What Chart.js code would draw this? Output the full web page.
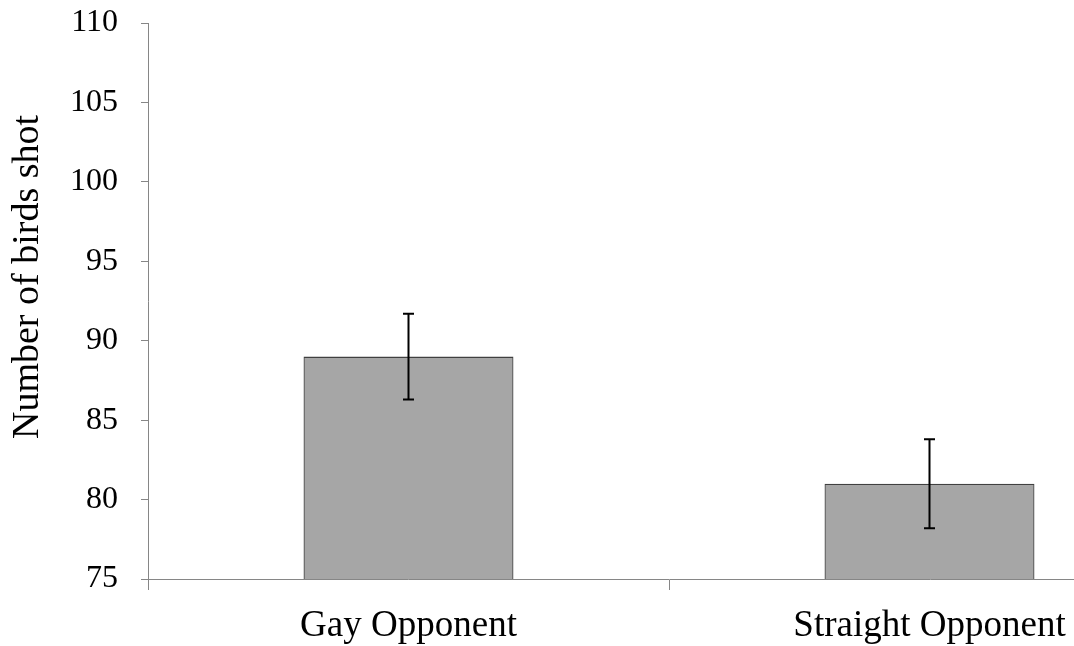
<!DOCTYPE html>
<html>
<head>
<meta charset="utf-8">
<script src="https://cdn.jsdelivr.net/npm/chart.js@4"></script>
<style>
  html, body { margin: 0; padding: 0; background: #fff; overflow: hidden; }
  #wrap { width: 1200px; height: 646px; position: relative; }
</style>
</head>
<body>
<div id="wrap"><canvas id="birdsChart"></canvas></div>
<script>
const categories = ['Gay Opponent', 'Straight Opponent'];
const birdsShot = [89, 81];
const birdsError = [2.7, 2.8];
const yTicks = [75, 80, 85, 90, 95, 100, 105, 110];
const yTitle = 'Number of birds shot';

// error bars + axis title drawn by hand
const errorBars = {
    id: 'errorBars',
    afterDatasetsDraw(chart) {
        const { ctx, scales: { y } } = chart;
        const meta = chart.getDatasetMeta(0);
        ctx.save();
        ctx.strokeStyle = '#000';
        ctx.lineWidth = 2;
        meta.data.forEach((bar, i) => {
            const top = y.getPixelForValue(birdsShot[i] + birdsError[i]);
            const bot = y.getPixelForValue(birdsShot[i] - birdsError[i]);
            ctx.beginPath();
            ctx.moveTo(bar.x, top); ctx.lineTo(bar.x, bot);
            ctx.moveTo(bar.x - 5.5, top); ctx.lineTo(bar.x + 5.5, top);
            ctx.moveTo(bar.x - 5.5, bot); ctx.lineTo(bar.x + 5.5, bot);
            ctx.stroke();
        });
        // y title sits a bit above the middle, like the original
        ctx.translate(28, 277);
        ctx.rotate(-Math.PI / 2);
        ctx.fillStyle = '#000';
        ctx.font = '38px "Liberation Serif"';
        ctx.textAlign = 'center';
        ctx.textBaseline = 'middle';
        ctx.fillText(yTitle, 0, 0);
        ctx.restore();
    }
};

const ctx = document.getElementById('birdsChart');
new Chart(ctx, {
    type: 'bar',
    data: {
        labels: categories,
        datasets: [{
            data: birdsShot,
            backgroundColor: '#a6a6a6',
            borderColor: '#404040',
            borderWidth: 1.3,
            borderSkipped: false,
            barPercentage: 0.403,
            categoryPercentage: 1
        }]
    },
    options: {
        responsive: true,
        maintainAspectRatio: false,
        animation: false,
        layout: { padding: { top: 23, right: 10, left: 0, bottom: 0 } },
        plugins: { legend: { display: false }, tooltip: { enabled: false } },
        scales: {
            x: {
                grid: { drawOnChartArea: false, color: '#868686', tickLength: 11, offset: true },
                border: { color: '#868686' },
                ticks: { color: '#000', padding: 14, font: { family: 'Liberation Serif', size: 37 } },
                afterFit: s => { s.height = 67; }
            },
            y: {
                min: 75, max: 110,
                afterBuildTicks: s => { s.ticks = yTicks.map(v => ({ value: v })); },
                grid: { drawOnChartArea: false, color: '#868686', tickLength: 7 },
                border: { color: '#868686' },
                ticks: { color: '#000', padding: 23, font: { family: 'Liberation Serif', size: 32 } },
                afterFit: s => { s.width = 148; s.paddingTop = 0; s.paddingBottom = 0; }
            }
        }
    },
    plugins: [errorBars]
});
</script>
</body>
</html>
